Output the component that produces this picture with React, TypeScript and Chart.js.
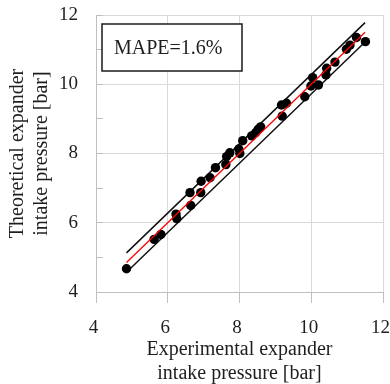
import { useEffect, useRef } from 'react';
import { Chart, registerables } from 'chart.js';

Chart.register(...registerables);

// Measured vs. modelled expander intake pressure [bar]
const experimental = [
  4.85, 5.62, 5.81, 6.23, 6.25, 6.62, 6.64, 6.93, 6.92, 7.18, 7.33, 7.64,
  7.62, 7.73, 7.98, 8.01, 8.09, 8.34, 8.45, 8.52, 8.59, 9.17, 9.31, 9.19,
  9.82, 10.04, 9.99, 10.2, 10.43, 10.41, 10.66, 10.98, 11.08, 11.26, 11.51,
];
const theoretical = [
  4.67, 5.52, 5.66, 6.25, 6.12, 6.87, 6.5, 7.2, 6.87, 7.3, 7.59, 7.91,
  7.68, 8.02, 8.13, 8.0, 8.37, 8.51, 8.6, 8.7, 8.77, 9.4, 9.45, 9.08,
  9.64, 10.19, 9.95, 9.98, 10.46, 10.27, 10.64, 11.01, 11.13, 11.35, 11.23,
];

// Parity line y = x and its error band
const parityRange = [4.85, 11.5];
const bandOffset = 0.28;

const axisMin = 4;
const axisMax = 12;
const majorStep = 2;

const xTitle = ['Experimental expander', 'intake pressure [bar]'];
const yTitle = ['Theoretical expander', 'intake pressure [bar]'];
const mapeLabel = 'MAPE=1.6%';

const FONT = "'Liberation Serif', 'Times New Roman', serif";
const TEXT = '#1e1e1e';
const GRID = '#d9d9d9';
const AXIS = '#bfbfbf';

const mapeBox = {
  id: 'mapeBox',
  afterDatasetsDraw(chart: any) {
    const { ctx, chartArea } = chart;
    const x = chartArea.left + 6;
    const y = chartArea.top + 9;
    const w = 140;
    const h = 47;
    ctx.save();
    ctx.fillStyle = '#ffffff';
    ctx.fillRect(x, y, w, h);
    ctx.strokeStyle = '#1a1a1a';
    ctx.lineWidth = 1.5;
    ctx.strokeRect(x, y, w, h);
    ctx.fillStyle = TEXT;
    ctx.font = `20px ${FONT}`;
    ctx.textBaseline = 'middle';
    ctx.textAlign = 'left';
    ctx.fillText(mapeLabel, x + 12, y + h / 2 + 1);
    ctx.restore();
  },
};

export default function App() {
  const canvasRef = useRef<HTMLCanvasElement | null>(null);

  useEffect(() => {
    document.body.style.margin = '0';
    const canvas = canvasRef.current;
    if (!canvas) return;

    const points = experimental.map((v, i) => ({ x: v, y: theoretical[i] }));
    const line = (off: number) => parityRange.map((v) => ({ x: v, y: v + off }));

    const chart = new Chart(canvas, {
      type: 'scatter',
      data: {
        datasets: [
          {
            label: 'y = x',
            data: line(0),
            showLine: true,
            borderColor: '#ff0000',
            borderWidth: 1.3,
            pointRadius: 0,
          },
          {
            label: 'Data',
            data: points,
            pointRadius: 4.7,
            pointBackgroundColor: '#000000',
            pointBorderWidth: 0,
            showLine: false,
          },
          {
            label: 'Upper',
            data: line(bandOffset),
            showLine: true,
            borderColor: '#111111',
            borderWidth: 1.5,
            pointRadius: 0,
          },
          {
            label: 'Lower',
            data: line(-bandOffset),
            showLine: true,
            borderColor: '#111111',
            borderWidth: 1.5,
            pointRadius: 0,
          },
        ],
      },
      options: {
        animation: false,
        responsive: true,
        maintainAspectRatio: false,
        layout: { padding: { top: 15, right: 7, left: 0, bottom: 0 } },
        plugins: {
          legend: { display: false },
          tooltip: { enabled: false },
        },
        scales: {
          x: {
            type: 'linear',
            min: axisMin,
            max: axisMax,
            ticks: {
              stepSize: majorStep,
              color: TEXT,
              font: { family: FONT, size: 19 },
              padding: 14,
              labelOffset: -2.5,
              maxRotation: 0,
            },
            grid: { color: GRID, tickColor: AXIS, tickLength: 11, lineWidth: 1 },
            border: { color: AXIS, width: 1 },
            title: {
              display: true,
              text: xTitle,
              color: TEXT,
              font: { family: FONT, size: 20, lineHeight: 1.2 },
              padding: { top: 0, bottom: -2 },
            },
            afterFit: (s: any) => {
              s.height = 92;
              s.paddingLeft = 0;
              s.paddingRight = 0;
            },
          },
          y: {
            type: 'linear',
            min: axisMin,
            max: axisMax,
            ticks: {
              stepSize: 1,
              color: TEXT,
              font: { family: FONT, size: 19 },
              padding: 25,
              callback: (v: any) => (Number(v) % majorStep === 0 ? String(v) : ''),
            },
            grid: {
              color: (c: any) =>
                c.tick && Number(c.tick.value) % majorStep !== 0 ? 'rgba(0,0,0,0)' : GRID,
              tickColor: AXIS,
              tickLength: -7,
              lineWidth: 1,
            },
            border: { color: AXIS, width: 1 },
            title: {
              display: true,
              text: yTitle,
              color: TEXT,
              font: { family: FONT, size: 20, lineHeight: 1.2 },
              padding: { top: 6, bottom: 0 },
            },
            afterFit: (s: any) => {
              s.width = 96;
              s.paddingTop = 0;
              s.paddingBottom = 0;
            },
          },
        },
      },
      plugins: [mapeBox],
    });

    return () => chart.destroy();
  }, []);

  return (
    <div style={{ position: 'relative', width: 390, height: 384 }}>
      <canvas ref={canvasRef} />
    </div>
  );
}
